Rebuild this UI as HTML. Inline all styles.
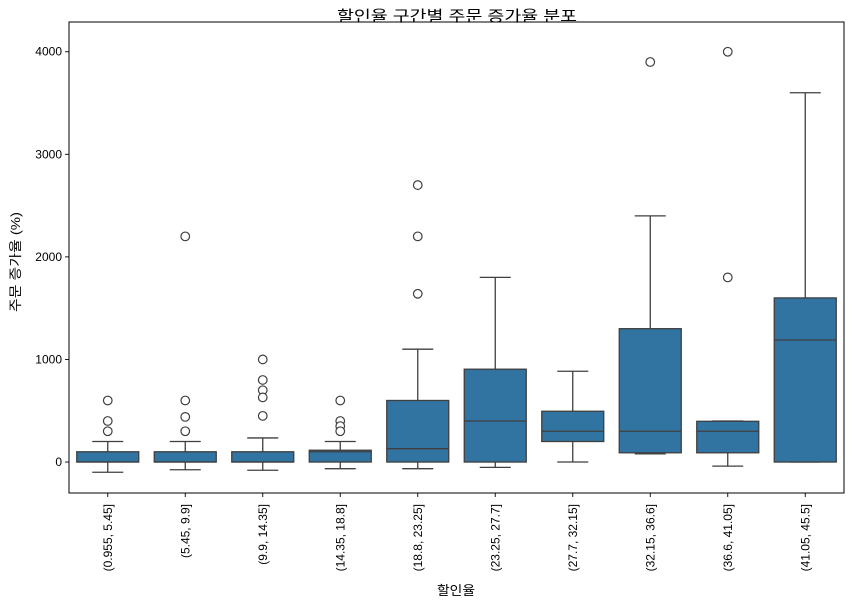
<!DOCTYPE html>
<html><head><meta charset="utf-8">
<style>
body{margin:0;background:#fff;}
svg text{font-family:"Liberation Sans","Noto Sans CJK KR",sans-serif;fill:#000;}
</style></head>
<body>
<svg id="chart" width="854" height="607" xmlns="http://www.w3.org/2000/svg"></svg>
<script>
const categories=["(0.955, 5.45]","(5.45, 9.9]","(9.9, 14.35]","(14.35, 18.8]","(18.8, 23.25]","(23.25, 27.7]","(27.7, 32.15]","(32.15, 36.6]","(36.6, 41.05]","(41.05, 45.5]"];
const q1Values=[0,0,0,0,0,0,200,90,90,0];
const medianValues=[0,0,0,100,130,400,300,300,300,1190];
const q3Values=[100,100,100,115,600,905,495,1300,397,1600];
const whiskerLow=[-100,-75,-80,-65,-65,-52,0,80,-40,0];
const whiskerHigh=[200,200,235,200,1100,1800,885,2400,400,3600];
const outliers=[[600,400,300],[2200,600,440,300],[1000,800,700,630,450],[600,400,350,300],[2700,2200,1640],[],[],[3900],[4000,1800],[]];
const yTicks=[0,1000,2000,3000,4000];

const L=69,R=844,T=22,B=493,yMin=-302,yMax=4290;
const NS="http://www.w3.org/2000/svg";
const svg=document.getElementById('chart');
function y(v){return B-(v-yMin)/(yMax-yMin)*(B-T);}
function x(i){return L+(i+0.5)*(R-L)/categories.length;}
function mk(tag,attrs,parent){const e=document.createElementNS(NS,tag);for(const k in attrs)e.setAttribute(k,attrs[k]);(parent||svg).appendChild(e);return e;}
const bw=0.8*(R-L)/categories.length;
const lc="#3f3f3f";
categories.forEach((c,i)=>{
  const g=mk('g',{});
  
  
  const cx=x(i);
  mk('line',{x1:cx,x2:cx,y1:y(q3Values[i]),y2:y(whiskerHigh[i]),stroke:lc,'stroke-width':1.3},g);
  mk('line',{x1:cx,x2:cx,y1:y(q1Values[i]),y2:y(whiskerLow[i]),stroke:lc,'stroke-width':1.3},g);
  mk('line',{x1:cx-bw/4,x2:cx+bw/4,y1:y(whiskerHigh[i]),y2:y(whiskerHigh[i]),stroke:lc,'stroke-width':1.3},g);
  mk('line',{x1:cx-bw/4,x2:cx+bw/4,y1:y(whiskerLow[i]),y2:y(whiskerLow[i]),stroke:lc,'stroke-width':1.3},g);
  mk('rect',{x:cx-bw/2,y:y(q3Values[i]),width:bw,height:Math.max(0.5,y(q1Values[i])-y(q3Values[i])),fill:'#3274a1',stroke:lc,'stroke-width':1.3},g);
  mk('line',{x1:cx-bw/2,x2:cx+bw/2,y1:y(medianValues[i]),y2:y(medianValues[i]),stroke:lc,'stroke-width':1.3},g);
  outliers[i].forEach(v=>{
    const o=mk('circle',{cx:cx,cy:y(v),r:4.3,fill:'#fff',stroke:lc,'stroke-width':1.2},g);
    
    
  });
  mk('line',{x1:cx,x2:cx,y1:B,y2:B+4,stroke:'#000','stroke-width':0.9});
  const t=mk('text',{x:0,y:0,'font-size':12,'text-anchor':'end',transform:`translate(${cx+4},${B+11}) rotate(-90)`});
  t.textContent=c;
  
  
});
yTicks.forEach(v=>{
  mk('line',{x1:L-4,x2:L,y1:y(v),y2:y(v),stroke:'#000','stroke-width':0.9});
  const t=mk('text',{x:L-7,y:y(v)+4,'font-size':12,'text-anchor':'end'});
  t.textContent=v;
  
  
});
const fr=mk('rect',{x:L,y:T,width:R-L,height:B-T,fill:'none',stroke:'#000','stroke-width':1});


const ti=mk('text',{x:337,y:21,'font-size':15,textLength:240,lengthAdjust:'spacingAndGlyphs'});
ti.textContent='할인율 구간별 주문 증가율 분포';


const xl=mk('text',{x:437,y:595,'font-size':13,textLength:38,lengthAdjust:'spacingAndGlyphs'});
xl.textContent='할인율';


const yl=mk('text',{x:0,y:0,'font-size':13,textLength:100,lengthAdjust:'spacingAndGlyphs',transform:`translate(20,312) rotate(-90)`});
yl.textContent='주문 증가율 (%)';


</script>
</body></html>
